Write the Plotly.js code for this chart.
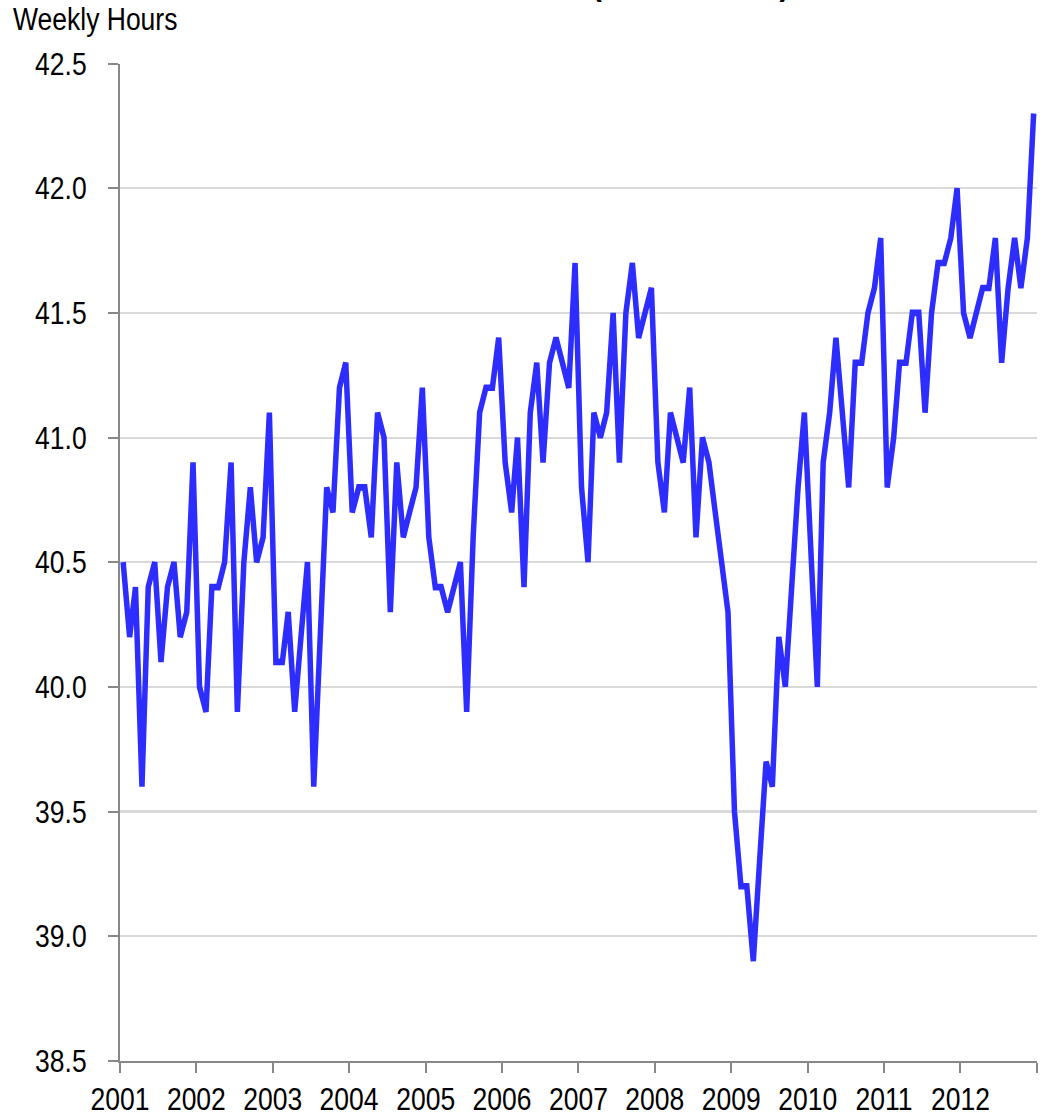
<!DOCTYPE html>
<html>
<head>
<meta charset="utf-8">
<script src="https://cdn.plot.ly/plotly-3.0.1.min.js"></script>
<style>
  html, body { margin: 0; padding: 0; background: #fff; overflow: hidden; }
  #wrap { width: 1045px; height: 1114px; overflow: hidden; }
  #chart { width: 1045px; transform-origin: 0 0; }
</style>
</head>
<body>
<div id="wrap"><div id="chart"></div></div>
<script>
// Weekly hours, monthly, Jan..Dec of each year
const years = [2001, 2002, 2003, 2004, 2005, 2006, 2007, 2008, 2009, 2010, 2011, 2012];
const hours2001 = [40.5, 40.2, 40.4, 39.6, 40.4, 40.5, 40.1, 40.4, 40.5, 40.2, 40.3, 40.9];
const hours2002 = [40.0, 39.9, 40.4, 40.4, 40.5, 40.9, 39.9, 40.5, 40.8, 40.5, 40.6, 41.1];
const hours2003 = [40.1, 40.1, 40.3, 39.9, 40.2, 40.5, 39.6, 40.2, 40.8, 40.7, 41.2, 41.3];
const hours2004 = [40.7, 40.8, 40.8, 40.6, 41.1, 41.0, 40.3, 40.9, 40.6, 40.7, 40.8, 41.2];
const hours2005 = [40.6, 40.4, 40.4, 40.3, 40.4, 40.5, 39.9, 40.6, 41.1, 41.2, 41.2, 41.4];
const hours2006 = [40.9, 40.7, 41.0, 40.4, 41.1, 41.3, 40.9, 41.3, 41.4, 41.3, 41.2, 41.7];
const hours2007 = [40.8, 40.5, 41.1, 41.0, 41.1, 41.5, 40.9, 41.5, 41.7, 41.4, 41.5, 41.6];
const hours2008 = [40.9, 40.7, 41.1, 41.0, 40.9, 41.2, 40.6, 41.0, 40.9, 40.7, 40.5, 40.3];
const hours2009 = [39.5, 39.2, 39.2, 38.9, 39.3, 39.7, 39.6, 40.2, 40.0, 40.4, 40.8, 41.1];
const hours2010 = [40.6, 40.0, 40.9, 41.1, 41.4, 41.1, 40.8, 41.3, 41.3, 41.5, 41.6, 41.8];
const hours2011 = [40.8, 41.0, 41.3, 41.3, 41.5, 41.5, 41.1, 41.5, 41.7, 41.7, 41.8, 42.0];
const hours2012 = [41.5, 41.4, 41.5, 41.6, 41.6, 41.8, 41.3, 41.6, 41.8, 41.6, 41.8, 42.3];
const tickLabels = ['2001','2002','2003','2004','2005','2006','2007','2008','2009','2010','2011','2012',''];
const yTitle = 'Weekly Hours';
const chartTitle = 'Hours Worked (Total Private)';

const byYear = [hours2001, hours2002, hours2003, hours2004, hours2005, hours2006,
                hours2007, hours2008, hours2009, hours2010, hours2011, hours2012];
const xs = [], ys = [];
years.forEach((yr, i) => {
  byYear[i].forEach((v, m) => {
    xs.push(yr + '-' + String(m + 1).padStart(2, '0') + '-16');
    ys.push(v);
  });
});
const tickVals = tickLabels.map((t, i) => (2001 + i) + '-01-01');

// The reference is vertically stretched: draw at reduced height, then stretch.
const K = 1.2;
const W = 1045, H = 1114 / K;
document.getElementById('chart').style.height = H + 'px';
document.getElementById('chart').style.transform = 'scaleY(' + K + ')';

const FONT = '"Liberation Sans", Arial, sans-serif';
const FS = 26.5;
const L = 120, R = 8, T = 64 / K, B = 53 / K;
const plotW = W - L - R, plotH = H - T - B;

const trace = {
  x: xs, y: ys, type: 'scatter', mode: 'lines',
  line: { color: '#2d2dff', width: 5.5, shape: 'linear' },
  hoverinfo: 'x+y'
};

const layout = {
  width: W, height: H,
  margin: { l: L, r: R, t: T, b: B, pad: 0 },
  paper_bgcolor: '#ffffff', plot_bgcolor: '#ffffff',
  showlegend: false,
  font: { family: FONT, size: FS, color: '#000' },
  xaxis: {
    type: 'date',
    range: ['2001-01-01', '2013-01-01'],
    tickmode: 'array', tickvals: tickVals, ticktext: tickLabels,
    ticks: 'outside', ticklen: 10 / K, tickwidth: 2, tickcolor: '#888',
    showline: true, linecolor: '#888', linewidth: 2 / K,
    showgrid: false, zeroline: false,
    tickfont: { family: FONT, size: FS, color: '#000' },
    ticklabelstandoff: -1
  },
  yaxis: {
    range: [38.5, 42.5],
    tickmode: 'linear', tick0: 38.5, dtick: 0.5, tickformat: '.1f',
    ticks: 'outside', ticklen: 10, tickwidth: 2 / K, tickcolor: '#888',
    showline: true, linecolor: '#888', linewidth: 2,
    showgrid: true, gridcolor: '#d9d9d9', gridwidth: 1.7,
    zeroline: false,
    tickfont: { family: FONT, size: FS, color: '#000' },
    ticklabelstandoff: 16
  },
  annotations: [
    {
      text: yTitle, xref: 'paper', yref: 'paper',
      x: (11 - L) / plotW, y: (H - B - 20 / K) / plotH,
      xanchor: 'left', yanchor: 'middle', showarrow: false,
      font: { family: FONT, size: FS, color: '#000' }
    },
    {
      text: '<b>' + chartTitle + '</b>', xref: 'paper', yref: 'paper',
      x: (792 - L) / plotW, y: (H - B - 4 / K) / plotH,
      xanchor: 'right', yanchor: 'bottom', showarrow: false,
      font: { family: FONT, size: 30, color: '#000' }
    }
  ]
};

Plotly.newPlot('chart', [trace], layout, { displayModeBar: false, staticPlot: true });
</script>
</body>
</html>
